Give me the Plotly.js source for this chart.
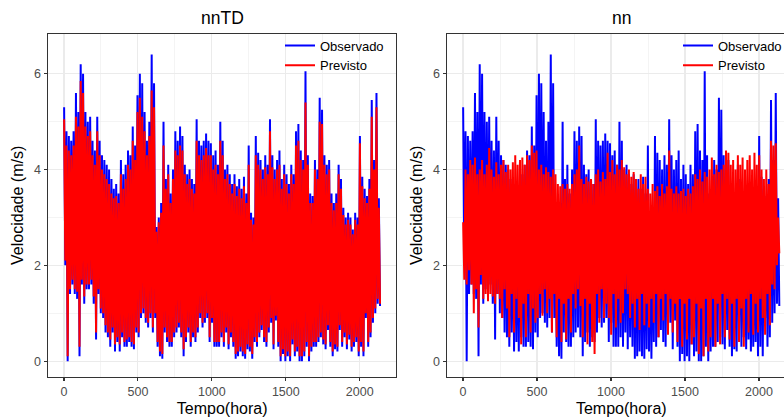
<!DOCTYPE html>
<html><head><meta charset="utf-8">
<script src="https://cdn.plot.ly/plotly-3.0.1.min.js"></script>
<style>html,body{margin:0;padding:0;overflow:hidden;background:#fff}</style>
</head><body><div id="chart" style="width:800px;height:418px"></div>
<script>
// sampling step of the readings (hours)
const stepHours = 8;

const observado = [
5.3,2.0,4.8,0.0,4.7,1.4,4.6,1.6,4.8,1.4,
5.6,1.3,5.2,0.1,6.2,1.6,6.0,1.2,5.2,1.5,
5.0,1.5,5.1,1.6,4.6,1.2,4.4,0.45,5.1,1.4,
4.6,1.0,4.3,0.9,4.2,0.6,4.1,0.5,4.0,0.3,
3.8,0.6,3.6,0.2,3.7,0.4,3.5,0.2,4.2,0.5,
3.9,0.3,4.1,0.3,4.4,0.4,4.3,0.3,4.9,0.25,
4.5,0.6,5.55,0.5,6.0,0.9,5.8,1.0,5.2,0.8,
4.6,0.7,5.0,0.9,6.4,0.6,5.8,0.9,2.8,0.3,
3.0,0.1,3.3,0.05,5.0,0.6,3.8,0.4,4.1,0.3,
3.5,0.3,4.0,0.5,4.8,0.6,4.6,0.7,4.9,0.5,
4.7,0.1,4.1,0.4,3.9,0.6,4.0,0.3,3.8,0.5,
3.7,0.4,5.05,0.6,4.6,0.9,4.5,0.7,4.6,0.8,
4.75,0.9,4.6,0.4,4.55,0.8,4.3,0.3,4.4,0.3,
4.1,0.3,5.0,0.5,4.6,0.3,4.0,0.6,4.1,0.25,
3.9,0.5,3.7,0.3,3.9,0.05,3.65,0.1,3.8,0.2,
3.6,0.1,3.85,0.05,3.5,0.25,4.5,0.2,3.1,0.05,
3.0,0.4,4.7,0.3,4.35,0.5,4.2,0.65,4.0,0.4,
4.3,0.3,4.1,0.6,5.05,0.8,4.3,0.25,4.0,0.85,
4.2,0.3,4.4,0.0,3.8,0.15,4.1,0.0,3.9,0.1,
3.7,0.0,4.1,0.35,3.9,0.1,4.8,0.2,4.95,0.0,
4.4,0.0,4.2,0.1,6.05,0.3,4.3,0.0,3.5,0.2,
3.45,0.3,4.2,0.3,4.0,0.4,5.5,0.5,5.25,0.35,
4.3,0.25,4.1,0.65,4.2,0.3,3.5,0.1,3.3,0.25,
3.5,0.2,4.1,0.65,3.8,0.3,3.2,0.5,3.0,0.25,
3.1,0.45,3.0,0.2,2.75,0.3,3.1,0.4,3.0,0.1,
4.7,0.3,3.85,0.1,3.6,0.9,3.45,0.3,3.8,0.5,
5.45,0.8,4.2,1.0,5.6,1.2,3.4,1.15
];

const previstoNnTD = [
5.05,2.1,4.5,0.1,4.4,1.5,4.3,1.7,4.5,1.5,
5.1,1.45,4.9,0.3,5.85,1.7,5.6,1.35,4.9,1.6,
4.7,1.6,4.8,1.7,4.3,1.35,4.1,0.6,4.8,1.5,
4.3,1.1,4.0,1.0,3.9,0.75,3.8,0.6,3.7,0.45,
3.5,0.7,3.4,0.35,3.45,0.5,3.3,0.35,3.9,0.6,
3.6,0.4,3.8,0.45,4.1,0.5,4.0,0.4,4.6,0.35,
4.2,0.7,5.2,0.6,5.5,1.0,5.1,1.1,4.8,0.9,
4.3,0.8,4.7,1.0,5.65,0.7,5.3,1.0,2.7,0.4,
2.9,0.2,3.1,0.15,4.5,0.7,3.6,0.5,3.9,0.4,
3.3,0.4,3.8,0.6,4.4,0.7,4.3,0.8,4.5,0.6,
4.4,0.25,3.9,0.5,3.7,0.7,3.8,0.4,3.6,0.6,
3.5,0.5,4.6,0.7,4.3,1.0,4.2,0.8,4.3,0.9,
4.45,1.0,4.3,0.5,4.3,0.9,4.0,0.4,4.1,0.4,
3.9,0.4,4.6,0.6,4.3,0.4,3.8,0.7,3.9,0.35,
3.7,0.6,3.5,0.4,3.7,0.15,3.45,0.2,3.6,0.3,
3.4,0.2,3.65,0.15,3.3,0.35,4.1,0.3,2.95,0.15,
2.85,0.5,4.3,0.4,4.1,0.6,4.0,0.75,3.8,0.5,
4.05,0.4,3.9,0.7,4.8,0.9,4.05,0.35,3.8,0.95,
4.0,0.4,4.1,0.1,3.6,0.25,3.9,0.1,3.7,0.2,
3.5,0.1,3.9,0.45,3.7,0.2,4.5,0.3,4.6,0.1,
4.2,0.1,4.0,0.2,5.4,0.4,4.1,0.1,3.3,0.3,
3.3,0.4,4.0,0.4,3.8,0.5,5.0,0.6,4.95,0.45,
4.1,0.35,3.9,0.75,4.0,0.4,3.3,0.2,3.15,0.35,
3.3,0.3,3.9,0.75,3.6,0.4,3.05,0.6,2.85,0.35,
2.95,0.55,2.85,0.3,2.65,0.4,2.95,0.5,2.85,0.2,
4.55,0.4,3.65,0.2,3.4,1.0,3.3,0.4,3.6,0.6,
5.1,0.9,4.0,1.1,5.3,1.3,3.2,1.2
];

const previstoNn = [
2.9,1.7,4.0,1.6,3.9,1.9,4.2,1.6,4.1,1.0,
4.25,1.5,3.9,0.7,4.0,1.8,4.2,1.3,3.9,1.4,
4.1,1.25,4.45,1.4,4.0,1.35,3.85,1.2,4.15,1.4,
3.9,1.3,4.1,0.9,4.2,1.5,3.95,1.1,4.1,0.5,
4.0,1.4,4.15,0.6,4.3,1.3,4.1,0.9,4.2,0.35,
4.25,1.2,4.1,0.5,4.3,1.4,4.2,0.6,4.5,1.1,
4.35,0.8,4.4,0.9,4.0,1.4,4.1,0.95,3.9,1.5,
4.05,1.0,3.95,1.3,3.85,0.6,4.0,1.4,3.9,0.5,
3.7,1.3,3.65,0.4,3.7,1.2,3.6,0.45,3.7,1.3,
3.6,0.6,3.7,1.4,3.9,1.1,4.0,1.5,4.5,1.15,
3.8,0.5,3.7,1.3,3.85,0.35,3.75,1.2,3.8,0.4,
3.7,0.15,3.9,1.4,4.0,0.8,3.75,1.5,3.95,0.9,
3.8,1.2,4.35,0.9,3.95,0.55,4.2,1.4,3.9,0.7,
4.1,1.3,4.0,0.8,4.2,1.0,4.05,1.5,3.9,1.4,
4.0,0.9,3.85,1.2,3.95,0.7,3.8,1.3,3.6,0.65,
3.9,1.4,3.7,0.75,3.85,1.2,3.6,0.7,3.5,1.3,
3.7,0.8,3.55,1.4,3.65,0.5,3.45,1.3,3.7,0.85,
3.5,1.4,3.65,0.55,4.4,1.3,3.6,0.6,3.5,1.2,
3.65,0.4,3.5,1.3,3.55,0.3,3.6,1.2,3.45,0.45,
3.6,1.3,3.5,0.35,3.65,0.5,3.9,1.2,3.8,0.15,
4.0,1.1,3.75,0.1,3.95,1.3,3.85,0.2,4.0,0.5,
4.25,1.3,3.9,0.3,4.1,1.2,3.95,0.35,4.0,1.4,
4.1,0.5,4.4,1.3,4.35,0.45,4.1,1.2,4.2,0.3,
4.0,1.3,4.3,0.4,4.1,1.1,4.25,0.3,4.0,1.3,
4.2,0.6,4.3,1.4,4.0,0.55,4.35,1.2,4.1,0.6,
4.3,1.3,4.0,0.9,3.8,0.55,4.0,1.4,3.7,0.75,
4.6,1.6,4.5,1.5,4.55,2.0,3.0,2.25
];

const tempo = observado.map((_, i) => 1 + i * stepHours);
const xTickVals = [0, 500, 1000, 1500, 2000];
const xTickText = ['0', '500', '1000', '1500', '2000'];
const yTickVals = [0, 2, 4, 6];
const yTickText = ['0', '2', '4', '6'];
const panelTitles = ['nnTD', 'nn'];
const seriesNames = ['Observado', 'Previsto'];

const W = 800, H = 418;
const blue = '#0000FF', red = '#FF0000';
const lw = 2.0;

function tr(x, y, name, color, xa, ya, leg) {
  return {x: x, y: y, type: 'scatter', mode: 'lines', name: name,
    line: {color: color, width: lw}, xaxis: xa, yaxis: ya, legend: leg,
    showlegend: true, hoverinfo: 'skip'};
}

const data = [
  tr(tempo, observado, seriesNames[0], blue, 'x', 'y', 'legend'),
  tr(tempo, previstoNnTD, seriesNames[1], red, 'x', 'y', 'legend'),
  tr(tempo, observado, seriesNames[0], blue, 'x2', 'y2', 'legend2'),
  tr(tempo, previstoNn, seriesNames[1], red, 'x2', 'y2', 'legend2')
];

const tickFont = {family: 'Liberation Sans, Arial, sans-serif', size: 12.5, color: '#4d4d4d'};
const titleFont = {family: 'Liberation Sans, Arial, sans-serif', size: 16, color: '#000000'};

function xax(dom, anchor) {
  return {domain: dom, anchor: anchor, range: [-106, 2245], tickmode: 'array',
    tickvals: xTickVals, ticktext: xTickText, ticks: 'outside', ticklen: 3.7,
    tickwidth: 1.07, tickcolor: '#333333', tickfont: tickFont,
    showgrid: true, gridcolor: '#ebebeb', gridwidth: 1.07, zeroline: false,
    showline: true, mirror: true, linecolor: '#333333', linewidth: 1.07,
    minor: {tickvals: [250, 750, 1250, 1750, 2250], showgrid: true, gridcolor: '#ebebeb', gridwidth: 0.55, ticks: ''},
    title: {text: 'Tempo(hora)', font: titleFont, standoff: 4}, fixedrange: true};
}
function yax(anchor) {
  return {domain: [(H - 376.7) / H, (H - 34) / H], anchor: anchor, range: [-0.325, 6.83],
    tickmode: 'array', tickvals: yTickVals, ticktext: yTickText, ticks: 'outside',
    ticklen: 3.7, tickwidth: 1.07, tickcolor: '#333333', tickfont: tickFont,
    showgrid: true, gridcolor: '#ebebeb', gridwidth: 1.07, zeroline: false,
    showline: true, mirror: true, linecolor: '#333333', linewidth: 1.07,
    minor: {tickvals: [1, 3, 5], showgrid: true, gridcolor: '#ebebeb', gridwidth: 0.55, ticks: ''},
    title: {text: 'Velocidade (m/s)', font: titleFont, standoff: 6}, fixedrange: true};
}

const legFont = {family: 'Liberation Sans, Arial, sans-serif', size: 13, color: '#000000'};
const layout = {
  width: W, height: H, margin: {l: 0, r: 0, t: 0, b: 0},
  paper_bgcolor: '#ffffff', plot_bgcolor: '#ffffff',
  xaxis: xax([48.3 / W, 396 / W], 'y'),
  yaxis: yax('x'),
  xaxis2: xax([447.3 / W, 795.3 / W], 'y2'),
  yaxis2: yax('x2'),
  legend: {x: 280 / W, y: (H - 30.5) / H, xanchor: 'left', yanchor: 'top', bgcolor: 'rgba(0,0,0,0)',
    font: legFont, tracegroupgap: 0, borderwidth: 0},
  legend2: {x: 678 / W, y: (H - 30.5) / H, xanchor: 'left', yanchor: 'top', bgcolor: 'rgba(0,0,0,0)',
    font: legFont, tracegroupgap: 0, borderwidth: 0},
  annotations: [
    {text: panelTitles[0], xref: 'paper', yref: 'paper', x: (48.3 + 396) / 2 / W, y: (H - 18) / H,
     xanchor: 'center', yanchor: 'middle', showarrow: false,
     font: {family: 'Liberation Sans, Arial, sans-serif', size: 17.5, color: '#000000'}},
    {text: panelTitles[1], xref: 'paper', yref: 'paper', x: (447.3 + 795.3) / 2 / W, y: (H - 18) / H,
     xanchor: 'center', yanchor: 'middle', showarrow: false,
     font: {family: 'Liberation Sans, Arial, sans-serif', size: 17.5, color: '#000000'}}
  ]
};

Plotly.newPlot('chart', data, layout, {displayModeBar: false, staticPlot: true});
</script></body></html>
